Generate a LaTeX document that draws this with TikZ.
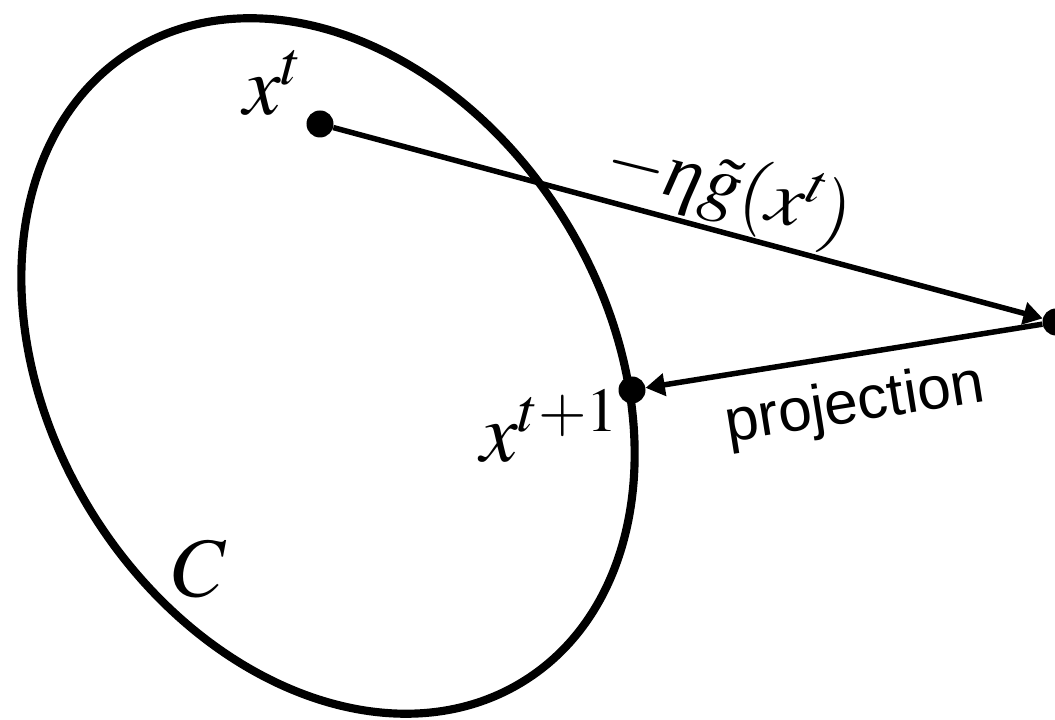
\documentclass[tikz,border=0pt]{standalone}
\usepackage{mathptmx}
\usepackage{fontspec}
\newfontfamily\sansf{Liberation Sans}
\newfontfamily\grk{Liberation Serif}
\newcommand{\itEta}{\mbox{\grk\itshape η}}
\usetikzlibrary{arrows.meta}
\begin{document}
\begin{tikzpicture}[x=0.025cm,y=0.025cm,
  dot/.style={circle,fill=black,inner sep=0pt,minimum size=0.675cm},
  vec/.style={line width=3.9pt,-{Triangle[length=0.48cm,width=0.55cm]}},
  setC/.style={line width=5.8pt},
  mlabel/.style={inner sep=0pt,font=\fontsize{60}{72}\selectfont},
  tlabel/.style={inner sep=0pt,font=\fontsize{43}{52}\selectfont\sansf}]
\useasboundingbox (0,0) rectangle (1055,720);
\draw[setC, rotate around={-58.2:(328,354)}] (328,354) ellipse [x radius=371, y radius=278];
\node[dot] (xt) at (320,596) {};
\node[dot] (xr) at (1056,398) {};
\node[dot] (xn) at (632,330) {};
\draw[vec] (xt) -- (xr);
\draw[vec] (xr) -- (xn);
\node[mlabel, anchor=base west] (lxt) at (243,605) {$x^t$};
\node[mlabel, anchor=base west] (lxn) at (480,258) {$x^{t+1}$};
\node[mlabel, anchor=base west] (lC) at (172,123) {$C$};
\node[mlabel, font=\fontsize{55}{66}\selectfont, rotate=-14] (lg) at (729,530) {$-\itEta\tilde{g}(x^t)$};
\node[tlabel, rotate=9.1] (lp) at (855,314) {projection};
\end{tikzpicture}
\end{document}
